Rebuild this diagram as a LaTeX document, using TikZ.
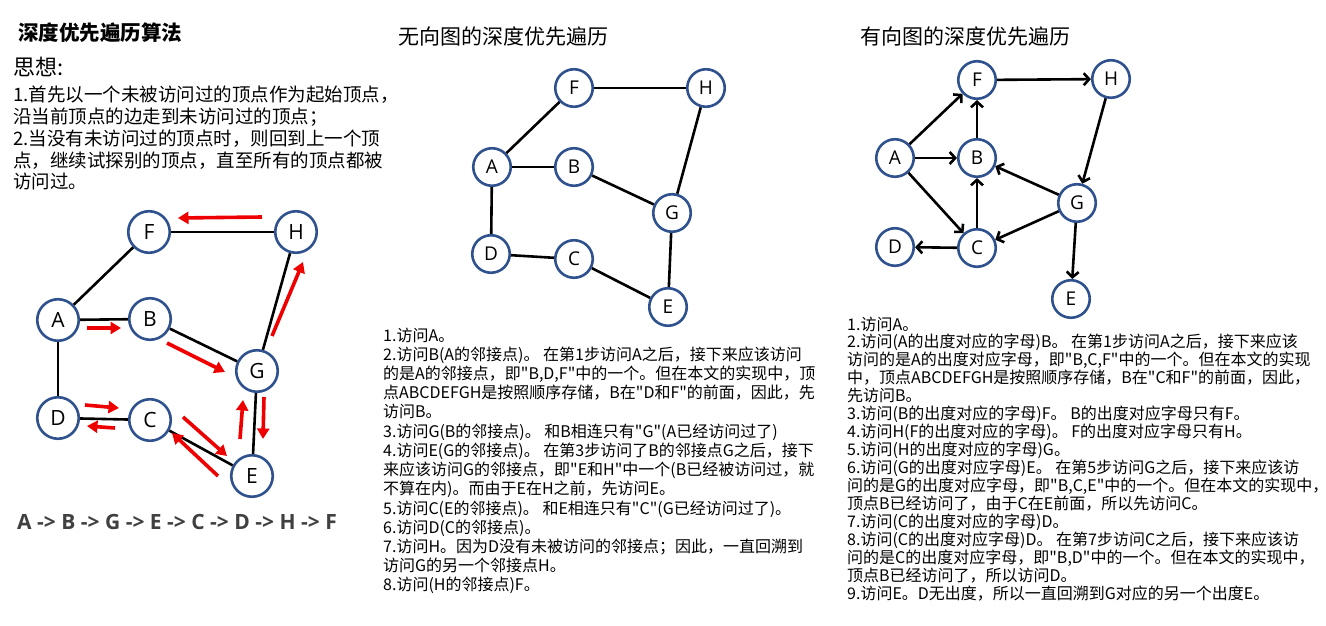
\documentclass[tikz,border=0pt]{standalone}
\usepackage{fontspec}
\setmainfont{Noto Sans CJK SC}[Ligatures=TeXOff]
\newfontfamily\latinf{Open Sans}[Ligatures=TeXOff]
\usetikzlibrary{arrows.meta}
\definecolor{nodeblue}{RGB}{47,82,143}
\definecolor{seqgray}{RGB}{64,64,64}
\definecolor{arrowred}{RGB}{238,0,0}
\begin{document}
\begin{tikzpicture}[x=1pt,y=-1pt,
  vtx/.style={circle,draw=nodeblue,line width=2.6pt,fill=white,minimum size=41.5pt,inner sep=0pt,font=\latinf\fontsize{21}{21}\selectfont},
  vtxs/.style={vtx,minimum size=37.5pt,font=\latinf\fontsize{19}{19}\selectfont},
  edge/.style={line width=2.6pt,black},
  redarr/.style={line width=3.6pt,arrowred,-{Triangle[length=10.5pt,width=12pt]}},
  darr/.style={line width=2.6pt,black,-{Straight Barb[length=5.5pt,width=12pt]}},
  txt/.style={anchor=base west,inner sep=0pt,text=black},
  midtxt/.style={txt,font=\fontsize{16}{19}\selectfont},
  lefttxt/.style={txt,font=\fontsize{18.5}{21}\selectfont}
  ]
\useasboundingbox[fill=white] (0,0) rectangle (1326,626);

% ---------- left column ----------
\node[txt,font=\bfseries\fontsize{20.5}{22}\selectfont] (title) at (18,40.5) {深度优先遍历算法};
\node[txt,font=\fontsize{22}{24}\selectfont] (idea) at (13,75.5) {思想:};
\foreach \t [count=\i] in {{1.首先以一个未被访问过的顶点作为起始顶点，},{沿当前顶点的边走到未访问过的顶点；},{2.当没有未访问过的顶点时，则回到上一个顶},{点，继续试探别的顶点，直至所有的顶点都被},{访问过。}}
  \node[lefttxt] (lt\i) at (13,{101.8+(\i-1)*21.75}) {\t};

% left graph
\node[vtx] (lF) at (149,232) {F};
\node[vtx] (lH) at (296,232) {H};
\node[vtx] (lA) at (58,320) {A};
\node[vtx] (lB) at (150,319) {B};
\node[vtx] (lG) at (257,371) {G};
\node[vtx] (lD) at (58,418) {D};
\node[vtx] (lC) at (150,420) {C};
\node[vtx] (lE) at (252,476) {E};
\draw[edge] (lF) -- (lH);
\draw[edge] (lA) -- (lF);
\draw[edge] (lA) -- (lB);
\draw[edge] (lA) -- (lD);
\draw[edge] (lB) -- (lG);
\draw[edge] (lG) -- (lH);
\draw[edge] (lG) -- (lE);
\draw[edge] (lD) -- (lC);
\draw[edge] (lC) -- (lE);

% red traversal arrows
\coordinate (r1s) at (262,217); \coordinate (r1e) at (178,218);
\coordinate (r2s) at (87,328);  \coordinate (r2e) at (121,328);
\coordinate (r3s) at (167,343); \coordinate (r3e) at (225,372);
\coordinate (r4s) at (272,336); \coordinate (r4e) at (303,262);
\coordinate (r5s) at (264,397); \coordinate (r5e) at (263,439);
\coordinate (r6s) at (240,439); \coordinate (r6e) at (243,400);
\coordinate (r7s) at (85,405);  \coordinate (r7e) at (119,408);
\coordinate (r8s) at (115,428); \coordinate (r8e) at (87,426);
\coordinate (r9s) at (183,417); \coordinate (r9e) at (227,456);
\coordinate (r10s) at (218,476); \coordinate (r10e) at (172,433);
\foreach \k in {1,...,10}
  \draw[redarr] (r\k s) -- (r\k e);

\node[txt,font=\latinf\bfseries\fontsize{21}{22}\selectfont,text=seqgray] (seq) at (17,529.5) {A -> B -> G -> E -> C -> D -> H -> F};

% ---------- middle column ----------
\node[txt,font=\fontsize{21}{23}\selectfont] (mtitle) at (398,45) {无向图的深度优先遍历};
\node[vtxs] (mF) at (574,88) {F};
\node[vtxs] (mH) at (706,88) {H};
\node[vtxs] (mA) at (492,167) {A};
\node[vtxs] (mB) at (574,167) {B};
\node[vtxs] (mG) at (672,213) {G};
\node[vtxs] (mD) at (491,254) {D};
\node[vtxs] (mC) at (574,259) {C};
\node[vtxs] (mE) at (668,307) {E};
\draw[edge] (mF) -- (mH);
\draw[edge] (mA) -- (mF);
\draw[edge] (mA) -- (mB);
\draw[edge] (mA) -- (mD);
\draw[edge] (mB) -- (mG);
\draw[edge] (mG) -- (mH);
\draw[edge] (mG) -- (mE);
\draw[edge] (mD) -- (mC);
\draw[edge] (mC) -- (mE);

\foreach \t [count=\i] in {{1.访问A。},{2.访问B(A的邻接点)。 在第1步访问A之后，接下来应该访问},{的是A的邻接点，即"B,D,F"中的一个。但在本文的实现中，顶},{点ABCDEFGH是按照顺序存储，B在"D和F"的前面，因此，先},{访问B。},{3.访问G(B的邻接点)。 和B相连只有"G"(A已经访问过了)},{4.访问E(G的邻接点)。 在第3步访问了B的邻接点G之后，接下},{来应该访问G的邻接点，即"E和H"中一个(B已经被访问过，就},{不算在内)。而由于E在H之前，先访问E。},{5.访问C(E的邻接点)。 和E相连只有"C"(G已经访问过了)。},{6.访问D(C的邻接点)。},{7.访问H。因为D没有未被访问的邻接点；因此，一直回溯到},{访问G的另一个邻接点H。},{8.访问(H的邻接点)F。}}
  \node[midtxt] (mt\i) at (383,{341+(\i-1)*19.23}) {\t};

% ---------- right column ----------
\node[txt,font=\fontsize{21}{23}\selectfont] (rtitle) at (860,45) {有向图的深度优先遍历};
\node[vtxs] (dF) at (977,80) {F};
\node[vtxs] (dH) at (1111,79) {H};
\node[vtxs] (dA) at (895,158) {A};
\node[vtxs] (dB) at (977,158) {B};
\node[vtxs] (dG) at (1077,203) {G};
\node[vtxs] (dD) at (895,247) {D};
\node[vtxs] (dC) at (977,248) {C};
\node[vtxs] (dE) at (1071,299) {E};
\draw[darr] (dA) -- (dF);
\draw[darr] (dA) -- (dB);
\draw[darr] (dA) -- (dC);
\draw[darr] (dB) -- (dF);
\draw[darr] (dC) -- (dB);
\draw[darr] (dF) -- (dH);
\draw[darr] (dH) -- (dG);
\draw[darr] (dG) -- (dB);
\draw[darr] (dG) -- (dC);
\draw[darr] (dC) -- (dD);
\draw[darr] (dG) -- (dE);

\foreach \t [count=\i] in {{1.访问A。},{2.访问(A的出度对应的字母)B。 在第1步访问A之后，接下来应该},{访问的是A的出度对应字母，即"B,C,F"中的一个。但在本文的实现},{中，顶点ABCDEFGH是按照顺序存储，B在"C和F"的前面，因此，},{先访问B。},{3.访问(B的出度对应的字母)F。 B的出度对应字母只有F。},{4.访问H(F的出度对应的字母)。 F的出度对应字母只有H。},{5.访问(H的出度对应的字母)G。},{6.访问(G的出度对应字母)E。 在第5步访问G之后，接下来应该访},{问的是G的出度对应字母，即"B,C,E"中的一个。但在本文的实现中，},{顶点B已经访问了，由于C在E前面，所以先访问C。},{7.访问(C的出度对应的字母)D。},{8.访问(C的出度对应字母)D。 在第7步访问C之后，接下来应该访},{问的是C的出度对应字母，即"B,D"中的一个。但在本文的实现中，},{顶点B已经访问了，所以访问D。},{9.访问E。D无出度，所以一直回溯到G对应的另一个出度E。}}
  \node[midtxt] (rt\i) at (847,{330+(\i-1)*17.98}) {\t};
\end{tikzpicture}
\end{document}
